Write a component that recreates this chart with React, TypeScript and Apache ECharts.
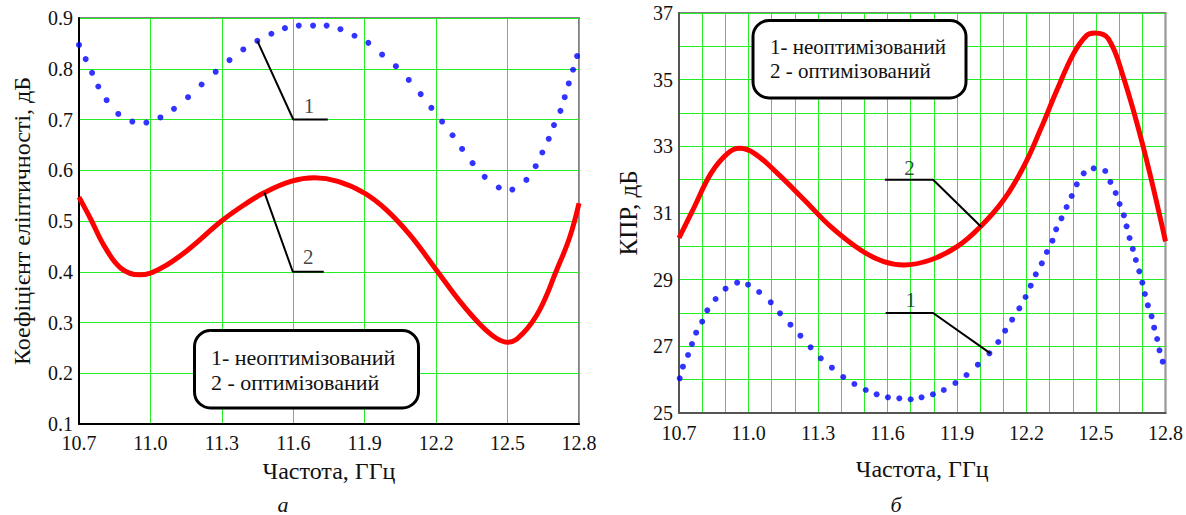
import React, { useEffect, useRef } from "react";
import * as echarts from "echarts";

// ---------- data: chart (а) ellipticity ----------
const elliptFreqUnopt = [10.700, 10.728, 10.755, 10.781, 10.816, 10.865, 10.924, 10.983, 11.042, 11.099, 11.158, 11.215, 11.274, 11.332, 11.390, 11.449, 11.508, 11.565, 11.623, 11.683, 11.740, 11.798, 11.857, 11.915, 11.973, 12.031, 12.085, 12.135, 12.180, 12.225, 12.269, 12.309, 12.353, 12.404, 12.463, 12.520, 12.579, 12.618, 12.646, 12.673, 12.695, 12.722, 12.740, 12.757, 12.775, 12.792];
const elliptValUnopt = [0.847, 0.819, 0.792, 0.765, 0.738, 0.711, 0.696, 0.694, 0.704, 0.721, 0.744, 0.769, 0.794, 0.817, 0.838, 0.855, 0.869, 0.880, 0.885, 0.885, 0.885, 0.878, 0.865, 0.851, 0.828, 0.805, 0.778, 0.750, 0.723, 0.696, 0.669, 0.642, 0.614, 0.587, 0.566, 0.562, 0.581, 0.608, 0.635, 0.662, 0.689, 0.717, 0.744, 0.771, 0.798, 0.825];
const elliptFreqOpt = [10.700, 10.750, 10.807, 10.876, 10.954, 11.044, 11.157, 11.296, 11.394, 11.479, 11.590, 11.689, 11.787, 11.899, 11.991, 12.089, 12.200, 12.299, 12.383, 12.453, 12.502, 12.565, 12.635, 12.705, 12.761, 12.800];
const elliptValOpt = [0.547, 0.503, 0.450, 0.407, 0.394, 0.407, 0.443, 0.499, 0.532, 0.556, 0.578, 0.585, 0.578, 0.555, 0.522, 0.473, 0.404, 0.342, 0.297, 0.269, 0.261, 0.279, 0.325, 0.402, 0.468, 0.535];

// ---------- data: chart (б) KPR ----------
const kprFreqUnopt = [10.703, 10.717, 10.739, 10.756, 10.774, 10.800, 10.822, 10.858, 10.901, 10.951, 10.998, 11.046, 11.096, 11.136, 11.181, 11.224, 11.268, 11.312, 11.360, 11.409, 11.457, 11.506, 11.553, 11.602, 11.651, 11.700, 11.747, 11.796, 11.843, 11.893, 11.941, 11.990, 12.040, 12.078, 12.108, 12.138, 12.169, 12.196, 12.218, 12.240, 12.266, 12.288, 12.312, 12.328, 12.351, 12.373, 12.395, 12.417, 12.447, 12.490, 12.540, 12.562, 12.585, 12.602, 12.620, 12.632, 12.645, 12.659, 12.672, 12.687, 12.700, 12.711, 12.724, 12.740, 12.751, 12.764, 12.774, 12.788];
const kprValUnopt = [26.04, 26.39, 26.74, 27.07, 27.41, 27.74, 28.08, 28.42, 28.73, 28.91, 28.85, 28.63, 28.32, 27.99, 27.65, 27.32, 26.97, 26.64, 26.36, 26.08, 25.87, 25.69, 25.56, 25.47, 25.44, 25.41, 25.47, 25.56, 25.69, 25.90, 26.14, 26.45, 26.79, 27.13, 27.47, 27.80, 28.14, 28.48, 28.82, 29.16, 29.49, 29.83, 30.17, 30.51, 30.84, 31.18, 31.51, 31.86, 32.19, 32.34, 32.26, 31.93, 31.60, 31.27, 30.93, 30.60, 30.25, 29.92, 29.59, 29.25, 28.91, 28.57, 28.23, 27.90, 27.56, 27.22, 26.88, 26.54];
const kprFreqOpt = [10.700, 10.766, 10.838, 10.910, 10.961, 11.025, 11.125, 11.241, 11.355, 11.484, 11.584, 11.671, 11.785, 11.900, 12.001, 12.101, 12.187, 12.259, 12.331, 12.403, 12.460, 12.496, 12.553, 12.618, 12.704, 12.800];
const kprValOpt = [30.25, 31.18, 32.19, 32.79, 32.94, 32.79, 32.19, 31.39, 30.59, 29.89, 29.54, 29.44, 29.59, 29.99, 30.59, 31.39, 32.38, 33.48, 34.68, 35.78, 36.33, 36.40, 36.23, 35.08, 32.98, 30.15];

// ---------- ticks ----------
const freqTicks = [10.7, 11.0, 11.3, 11.6, 11.9, 12.2, 12.5, 12.8];
const kprTicks = [25, 27, 29, 31, 33, 35, 37];

// ---------- annotations (data coordinates) ----------
const elliptLeader1 = [[11.449, 0.855], [11.600, 0.700], [11.745, 0.700]];
const elliptLeader2 = [[11.479, 0.556], [11.598, 0.400], [11.728, 0.400]];
const kprLeader2 = [[11.589, 32.0], [11.797, 32.0], [12.004, 30.59]];
const kprLeader1 = [[11.592, 28.0], [11.797, 28.0], [12.044, 26.79]];
const elliptMarks = [{ name: "1", value: [11.666, 0.727] }, { name: "2", value: [11.663, 0.429] }];
const kprMarks = [{ name: "2", value: [11.695, 32.34] }, { name: "1", value: [11.70, 28.39] }];

const legendLines = ["1- неоптимізований", "2 - оптимізований"];

const FONT = "Liberation Serif, Times New Roman, serif";
const zip = (xs: number[], ys: number[]) => xs.map((x, i) => [x, ys[i]]);

export default function App() {
  const ref = useRef<HTMLDivElement>(null);
  useEffect(() => {
    document.body.style.margin = "0";
    const chart = echarts.init(ref.current!, null, { renderer: "svg" });
    const labelStyle = { fontFamily: FONT, fontSize: 20, color: "#111" };
    const nameStyle = { fontFamily: FONT, fontSize: 24, color: "#111" };
    const green = { color: "#22ee22", width: 1 };
    const leader = (xi: number, data: number[][]) => ({
      type: "line", xAxisIndex: xi, yAxisIndex: xi, data, silent: true,
      symbol: "none", lineStyle: { color: "#000", width: 2 }, z: 4,
    });
    const marks = (xi: number, data: any[]) => ({
      type: "scatter", xAxisIndex: xi, yAxisIndex: xi, data, silent: true,
      symbolSize: 1, itemStyle: { color: "rgba(0,0,0,0)" }, z: 6,
      label: { show: true, position: "inside", formatter: "{b}", fontFamily: FONT, fontSize: 21, color: "#111" },
    });
    chart.setOption({
      animation: false,
      textStyle: { fontFamily: FONT },
      grid: [
        { left: 79, top: 18, width: 500, height: 406, show: true, borderColor: "#808080", borderWidth: 2, backgroundColor: "#fff" },
        { left: 679, top: 13, width: 488, height: 400, show: true, borderColor: "#808080", borderWidth: 2, backgroundColor: "#fff" },
      ],
      xAxis: [
        {
          type: "value", gridIndex: 0, min: 10.7, max: 12.8,
          axisLine: { show: true, onZero: false, lineStyle: { color: "#000", width: 2 } },
          axisTick: { show: false, customValues: freqTicks },
          axisLabel: { ...labelStyle, margin: 9, customValues: freqTicks, formatter: (v: number) => v.toFixed(1) },
          splitLine: { show: true, lineStyle: green },
          name: "Частота, ГГц", nameLocation: "middle", nameGap: 35, nameTextStyle: nameStyle,
        },
        {
          type: "value", gridIndex: 1, min: 10.7, max: 12.8, interval: 0.1,
          axisLine: { show: true, onZero: false, lineStyle: { color: "#555", width: 2 } },
          axisTick: { show: false },
          axisLabel: { ...labelStyle, margin: 10, customValues: freqTicks, formatter: (v: number) => v.toFixed(1) },
          splitLine: { show: true, lineStyle: green },
          name: "Частота, ГГц", nameLocation: "middle", nameGap: 44, nameTextStyle: nameStyle,
        },
      ],
      yAxis: [
        {
          type: "value", gridIndex: 0, min: 0.1, max: 0.9, interval: 0.1,
          axisLine: { show: true, lineStyle: { color: "#000", width: 2 } },
          axisTick: { show: false },
          axisLabel: { ...labelStyle, margin: 6, formatter: (v: number) => v.toFixed(1) },
          splitLine: { show: true, lineStyle: green },
          name: "Коефіцієнт еліптичності, дБ", nameLocation: "middle", nameGap: 45,
          nameTextStyle: { ...nameStyle, fontSize: 24 },
        },
        {
          type: "value", gridIndex: 1, min: 25, max: 37, interval: 1,
          axisLine: { show: true, lineStyle: { color: "#555", width: 2 } },
          axisTick: { show: false },
          axisLabel: { ...labelStyle, margin: 6, customValues: kprTicks, formatter: (v: number) => String(v) },
          splitLine: { show: true, lineStyle: green },
          name: "КПР, дБ", nameLocation: "middle", nameGap: 38,
          nameTextStyle: { ...nameStyle, fontSize: 25 },
        },
      ],
      series: [
        {
          type: "line", xAxisIndex: 0, yAxisIndex: 0, data: zip(elliptFreqOpt, elliptValOpt),
          smooth: 0.4, symbol: "none", lineStyle: { color: "#ff0000", width: 5 }, z: 3,
        },
        {
          type: "scatter", xAxisIndex: 0, yAxisIndex: 0, data: zip(elliptFreqUnopt, elliptValUnopt),
          symbolSize: 6, itemStyle: { color: "#0000ff" }, z: 3,
        },
        {
          type: "line", xAxisIndex: 1, yAxisIndex: 1, data: zip(kprFreqOpt, kprValOpt),
          smooth: 0.4, symbol: "none", lineStyle: { color: "#ff0000", width: 5 }, z: 3,
        },
        {
          type: "scatter", xAxisIndex: 1, yAxisIndex: 1, data: zip(kprFreqUnopt, kprValUnopt),
          symbolSize: 6, itemStyle: { color: "#0000ff" }, z: 3,
        },
        leader(0, elliptLeader1), leader(0, elliptLeader2),
        leader(1, kprLeader1), leader(1, kprLeader2),
        marks(0, elliptMarks), marks(1, kprMarks),
      ],
      graphic: [
        { type: "rect", z: 100, shape: { x: 194.5, y: 330.5, width: 224, height: 77.5, r: 16 }, style: { fill: "#fff", stroke: "#000", lineWidth: 3 } },
        { type: "text", z: 101, x: 211, y: 357, style: { text: legendLines[0], font: `22px ${FONT}`, fill: "#111", verticalAlign: "middle" } },
        { type: "text", z: 101, x: 211, y: 382, style: { text: legendLines[1], font: `22px ${FONT}`, fill: "#111", verticalAlign: "middle" } },
        { type: "rect", z: 100, shape: { x: 753, y: 20.5, width: 213, height: 77.5, r: 16 }, style: { fill: "#fff", stroke: "#000", lineWidth: 3 } },
        { type: "text", z: 101, x: 770, y: 47, style: { text: legendLines[0], font: `21px ${FONT}`, fill: "#111", verticalAlign: "middle" } },
        { type: "text", z: 101, x: 770, y: 71, style: { text: legendLines[1], font: `21px ${FONT}`, fill: "#111", verticalAlign: "middle" } },
        { type: "text", z: 101, x: 283, y: 515, style: { text: "а", font: `italic 22px ${FONT}`, fill: "#111", align: "center", verticalAlign: "bottom" } },
        { type: "text", z: 101, x: 896, y: 515, style: { text: "б", font: `italic 22px ${FONT}`, fill: "#111", align: "center", verticalAlign: "bottom" } },
      ],
    });
    return () => chart.dispose();
  }, []);
  return <div ref={ref} style={{ position: "absolute", left: 0, top: 0, width: 1186, height: 515 }} />;
}
